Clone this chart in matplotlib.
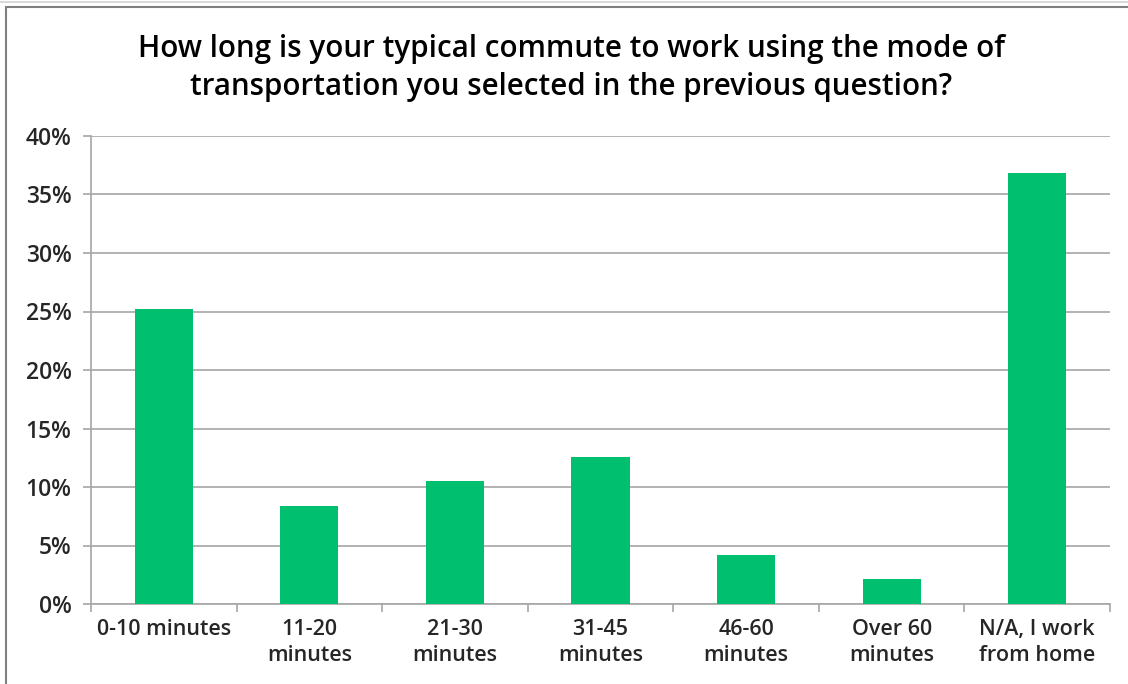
import matplotlib
matplotlib.use('Agg')
from matplotlib import pyplot as plt
from matplotlib.patches import Rectangle
from matplotlib.ticker import FuncFormatter

categories = ['0-10 minutes', '11-20\nminutes', '21-30\nminutes', '31-45\nminutes',
              '46-60\nminutes', 'Over 60\nminutes', 'N/A, I work\nfrom home']
shares = [25.2, 8.4, 10.5, 12.6, 4.2, 2.1, 36.8]
title = 'How long is your typical commute to work using the mode of\ntransportation you selected in the previous question?'

plt.rcParams['font.family'] = ['Open Sans', 'DejaVu Sans']
textColor = '#262626'
gridColor = '#A6A6A6'
barColor = '#00BF6F'

fig = plt.figure(figsize=(11.28, 6.84), dpi=100)
ax = fig.add_axes([91 / 1128, 1 - 604 / 684, (1110 - 91) / 1128, (604 - 136) / 684])

# chart frame
fig.patches.append(Rectangle((6 / 1128, -0.01), 1.1, (684 - 7) / 684 + 0.01, transform=fig.transFigure,
                             fill=False, edgecolor='#7F7F7F', linewidth=1.5))
fig.patches.append(Rectangle((0, 1 - 2 / 684), 1, 0, transform=fig.transFigure,
                             fill=False, edgecolor='#D9D9D9', linewidth=1.5))

x = range(len(categories))
ax.bar(x, shares, width=0.4, color=barColor, zorder=3)

ax.set_xlim(-0.5, len(categories) - 0.5)
ax.set_ylim(0, 40)
ax.set_yticks(range(0, 41, 5))
ax.yaxis.set_major_formatter(FuncFormatter(lambda v, p: f'{v:.0f}%'))
ax.set_xticks(list(x))
ax.set_xticklabels(categories, fontsize=15.5, fontweight='semibold', color=textColor, linespacing=1.3)
ax.set_xticks([i - 0.5 for i in range(len(categories) + 1)], minor=True)
ax.tick_params(axis='x', which='major', length=0, pad=11)
ax.tick_params(axis='x', which='minor', length=6, color=gridColor, width=1.2)
ax.tick_params(axis='y', length=6, color=gridColor, width=1.2, pad=8, labelsize=16.5,
               labelcolor=textColor)
for lab in ax.get_yticklabels():
    lab.set_fontweight('semibold')

ax.grid(axis='y', color=gridColor, linewidth=1.2, zorder=0)
for side in ['top', 'right']:
    ax.spines[side].set_visible(False)
ax.spines['left'].set_color(gridColor)
ax.spines['bottom'].set_color(gridColor)
ax.spines['left'].set_linewidth(1.2)
ax.spines['bottom'].set_linewidth(1.2)

fig.text(0.5 + 7 / 1128, 1 - 68 / 684, title, ha='center', va='center', fontsize=21.3,
         fontweight='semibold', color='black', linespacing=1.38)

fig.savefig('out.png', dpi=100)
